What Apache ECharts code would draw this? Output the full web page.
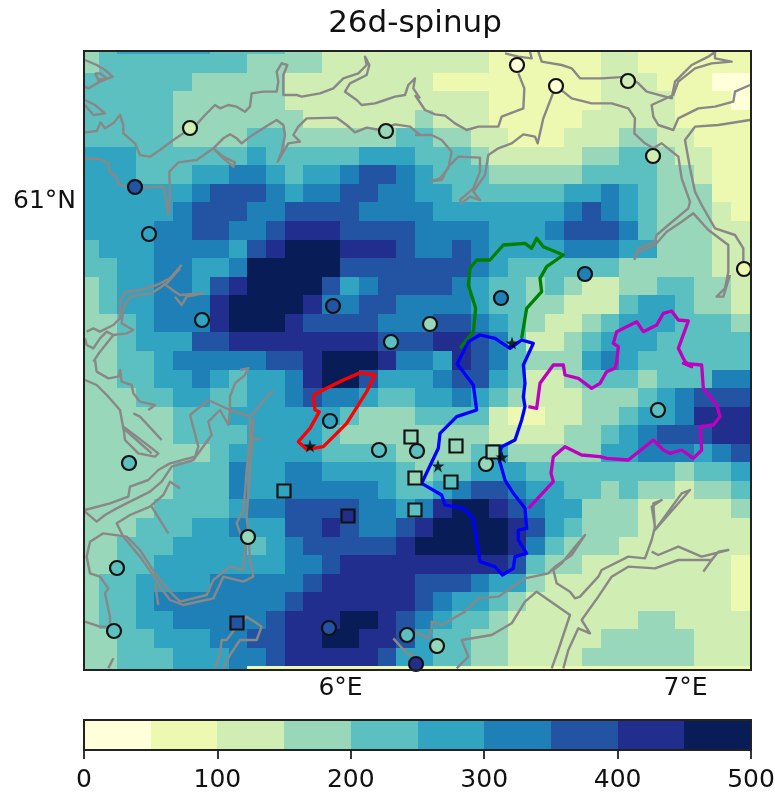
<!DOCTYPE html>
<html><head><meta charset="utf-8">
<style>html,body{margin:0;padding:0;background:#fff}#c{width:775px;height:798px;filter:blur(0.55px)}</style>
<script src="https://cdn.jsdelivr.net/npm/echarts@6/dist/echarts.min.js"></script>
</head><body><div id="c"></div>
<script>
const titleText = '26d-spinup';
const palette = ['#ffffd9','#edf8b1','#d0edb3','#98d7b9','#5cc0c0','#31a4c2','#1f80b8','#2254a3','#212e8e','#081d58'];
const barTicks = [0,100,200,300,400,500];
const binWidth = 50;
// colour class of each model cell (value = class*50+25), north to south, west to east
const cellBins = [
[3,4,5,5,5,5,5,4,4,4,4,3,3,2,2,2,2,2,2,2,2,2,1,1,1,1,1,1,2,2,1,1,1,1,1,1],
[3,4,4,4,4,4,4,4,4,3,3,3,3,2,2,2,2,2,2,2,2,2,1,1,1,1,1,1,2,2,1,1,1,1,1,1],
[4,4,4,4,4,4,3,3,3,3,3,2,2,2,2,2,2,2,2,1,1,1,1,1,1,1,1,1,2,2,2,1,1,1,0,0],
[4,4,4,4,4,3,3,3,3,3,3,2,2,2,2,2,2,2,2,2,2,2,1,1,1,1,1,1,2,2,2,2,1,1,1,0],
[4,4,4,4,4,3,3,3,3,3,3,3,2,2,2,2,2,2,3,2,2,2,1,1,1,1,1,2,2,2,2,2,1,1,1,1],
[4,4,4,4,4,3,3,3,3,4,4,3,3,3,3,3,3,4,4,3,3,2,2,1,1,1,2,2,2,3,3,2,2,1,1,1],
[5,5,5,4,4,4,4,4,4,5,4,4,4,4,4,5,5,5,4,4,4,3,2,2,2,2,2,3,3,4,4,3,2,2,1,1],
[5,5,5,4,4,4,5,5,6,6,5,4,5,5,6,7,7,6,5,4,4,4,3,3,3,3,3,4,4,4,4,3,3,2,1,1],
[5,5,5,5,5,5,6,7,7,7,6,5,6,6,7,7,6,6,5,5,4,4,4,4,4,4,5,5,6,5,4,3,3,3,1,1],
[5,5,5,5,5,6,7,7,7,6,6,7,7,7,7,6,6,6,6,5,5,5,5,5,5,5,6,7,6,5,4,3,3,3,2,1],
[5,5,5,5,6,6,7,7,6,6,7,8,8,8,7,7,7,7,6,6,6,6,5,5,5,6,7,7,7,6,4,3,3,3,2,2],
[4,5,5,5,6,6,6,6,5,7,8,9,9,9,8,8,8,7,6,6,7,6,5,5,5,5,6,6,6,5,5,3,3,3,2,2],
[4,4,5,5,6,6,5,5,6,9,9,9,9,9,7,7,7,7,7,7,7,6,5,4,4,4,4,4,4,3,3,3,3,3,2,2],
[3,4,5,5,6,6,5,7,8,9,9,9,9,7,5,6,7,7,7,7,6,5,4,4,3,4,3,2,2,3,3,4,4,3,3,2],
[3,4,5,5,6,6,6,8,9,9,9,9,8,6,6,7,7,6,6,6,6,5,4,4,3,3,2,2,2,4,5,5,4,3,3,2],
[3,3,4,5,6,6,6,8,9,9,9,8,7,7,7,7,6,6,6,7,7,6,5,4,3,2,2,3,4,5,5,5,4,4,4,3],
[3,3,4,5,5,5,7,7,8,8,8,8,8,8,8,8,7,7,7,8,8,7,6,4,2,2,3,4,5,5,5,4,4,4,4,4],
[3,3,4,4,5,6,6,6,6,6,7,7,8,9,9,9,8,6,6,5,8,7,6,4,3,3,3,5,6,5,4,4,4,4,4,4],
[3,3,4,4,5,5,6,5,4,5,5,6,8,9,9,7,5,5,5,6,7,7,5,4,2,2,3,4,4,4,3,4,4,4,6,6],
[3,3,3,4,4,5,5,4,4,5,5,6,7,6,6,5,4,4,5,5,6,5,4,3,2,2,2,3,3,3,4,5,6,7,7,7],
[3,3,3,3,3,4,4,4,5,5,5,5,5,5,4,3,3,3,4,4,4,4,2,1,1,2,2,3,3,4,5,5,6,8,8,8],
[3,3,3,3,3,4,4,4,4,5,5,5,5,4,3,3,3,3,3,3,3,3,2,2,2,2,3,3,4,5,6,7,7,7,8,8],
[3,3,3,3,3,3,3,4,5,5,5,5,5,4,4,4,4,3,3,3,3,4,5,3,3,3,3,3,5,5,6,6,6,5,6,7],
[3,3,3,3,3,4,4,4,6,5,5,6,6,5,5,5,5,4,3,4,4,5,5,5,4,4,4,4,4,4,4,4,3,4,4,5],
[3,3,3,3,3,4,4,4,6,5,5,6,6,6,6,6,5,4,4,5,6,7,7,6,5,5,4,4,3,4,3,3,2,3,3,4],
[3,3,3,3,4,4,4,4,5,6,6,7,7,7,7,6,6,5,6,8,9,9,8,7,6,5,5,3,3,3,2,2,2,2,2,3],
[3,3,3,4,4,4,5,5,6,5,5,7,7,8,7,6,6,7,8,9,9,9,9,8,7,5,4,3,3,3,2,2,2,2,2,2],
[3,3,4,4,4,5,5,5,5,4,5,6,7,7,7,7,7,8,9,9,9,9,9,8,6,4,3,3,3,2,2,2,2,2,2,2],
[3,3,4,4,5,5,5,5,5,5,5,6,6,7,8,8,8,8,8,8,8,8,8,7,4,3,3,2,2,2,2,2,2,2,2,1],
[3,4,4,5,5,5,5,6,6,6,6,6,7,8,8,8,8,8,7,7,7,6,5,5,3,2,2,2,2,2,2,2,2,2,2,1],
[3,4,4,5,6,6,6,6,6,6,6,7,8,8,8,8,8,8,7,6,5,5,4,3,2,2,2,2,2,2,2,2,2,2,2,1],
[3,4,4,5,5,6,6,6,6,6,7,8,8,8,9,9,8,7,6,5,4,4,3,2,2,2,2,2,2,2,3,3,2,2,2,2],
[3,3,4,4,5,5,5,6,6,7,7,8,8,9,9,8,8,7,5,4,4,3,3,2,2,2,2,2,3,3,3,3,3,2,2,2],
[3,3,4,4,4,5,5,5,6,6,7,8,8,8,8,8,7,5,5,4,4,3,3,2,2,2,2,3,3,3,3,3,3,2,2,2],
[3,3,4,4,4,5,5,5,6,1,1,1,1,1,1,1,1,1,1,1,1,1,1,1,1,1,1,1,1,1,1,1,1,1,1,1]
];
// stations: [map x, map y, observed value]
const circleStations = [[153,45,325],[517,65,30],[556,86,30],[628,81,120],[190,128,130],[386,131,170],[653,156,120],[135,187,380],[149,234,260],[744,269,60],[585,274,320],[333,306,370],[501,298,320],[202,320,270],[430,324,190],[391,342,220],[330,421,270],[379,450,220],[417,451,230],[658,410,210],[486,464,170],[129,463,240],[248,537,160],[117,568,210],[114,631,210],[329,628,360],[407,635,230],[437,646,180],[416,664,400],[565,673,300]];
const squareStations = [[411,437,150],[456,446,170],[493,452,170],[415,478,170],[451,482,220],[284,491,270],[348,516,420],[415,510,220],[237,623,390],[129,673,450]];
const starStations = [[310,446],[438,466],[502,457],[512,343]];
const sheetNW = [80,45], sheetNE = [415,45], sheetSW = [80,360], sheetSE = [415,360];
const coastNW = [
[[15,262],[50,258],[62,232],[75,250],[100,235],[120,210],[130,240],[130,265],[165,295],[180,330],[210,335],[240,315],[280,285],[310,265],[340,250],[375,210],[405,180],[420,190],[445,180],[470,185],[495,200],[510,185],[515,145],[550,140],[590,140],[595,110],[590,80],[605,55],[622,60],[610,90],[610,150],[650,150],[665,155],[720,145],[760,130],[790,100],[835,85],[860,60],[855,35],[868,60],[860,90],[810,115],[795,140],[830,165],[845,180],[885,175],[915,165],[945,155],[975,150],[985,120],[1005,100],[1000,130],[1020,160]],
[[15,340],[60,342],[85,355],[88,380],[110,395],[112,415],[140,425],[190,428],[250,425],[258,460],[265,510],[270,460],[268,380],[295,352],[350,345],[385,320],[400,310],[430,280],[450,268],[470,280],[485,295],[510,275],[565,240],[590,225],[610,240],[615,270],[605,320],[593,350],[625,295],[660,290],[640,270],[655,245],[680,220],[770,218],[800,240],[825,262],[860,248],[900,255],[945,238],[990,245],[1020,270]],
[[400,310],[430,340],[460,365],[465,352],[430,335],[400,310]],
[[15,45],[50,60],[75,75],[98,95],[60,110],[25,130],[15,125]],
[[45,85],[55,105],[80,100],[60,85],[45,85]],
[[15,165],[45,180],[75,205],[40,210],[15,180]],
[[305,660],[270,700],[230,720],[180,735],[135,740],[120,770],[120,820],[100,840],[60,860],[40,850],[20,860]],
[[300,670],[260,715],[215,745],[150,755],[130,790],[125,835],[160,855],[140,865],[100,870],[80,860],[60,880],[40,910],[20,900],[15,880]],
[[250,715],[285,740],[300,750],[370,745],[320,755],[305,780],[285,755]],
[[40,950],[60,920],[100,870]]
];
const coastNE = [
[[0,150],[30,195],[60,208],[90,212],[120,235],[155,255],[190,245],[250,245],[260,215],[325,190],[328,130],[310,85]],
[[270,25],[310,35],[350,40],[345,20]],
[[0,270],[50,270],[80,285],[110,320],[100,370],[75,400],[50,408],[80,405],[100,365],[130,335],[195,338],[195,380],[175,430],[135,465],[140,475],[165,455],[195,465],[175,440],[210,390],[220,330],[250,310],[290,295],[325,268],[360,275],[368,295],[385,220],[412,150],[423,125]],
[[425,125],[445,140],[470,160],[530,175],[590,175],[640,190],[660,220],[658,265],[690,295],[715,310]],
[[370,20],[380,50],[440,60],[470,70],[495,100],[560,100],[640,95],[670,115],[695,140],[770,160],[780,110],[830,60],[880,35],[900,20],[900,40],[950,50],[890,55],[840,70],[790,110],[775,150],[710,180],[715,215],[730,240],[775,255],[790,220],[850,190],[900,185],[955,170],[960,140],[1005,120]],
[[715,310],[740,295],[790,335],[800,400],[825,470],[820,490],[760,540],[725,570],[720,590],[670,610],[658,645]],
[[1005,225],[910,240],[840,245],[810,285],[825,370],[840,440],[860,480],[900,550],[960,570],[985,610],[985,660]],
[[660,625],[720,600],[755,560],[800,530],[835,505],[880,555],[940,600],[940,680],[930,730],[905,755],[925,755],[945,690]]
];
const coastSW = [
[[45,0],[50,35],[85,55],[115,50],[120,30],[125,65],[155,75],[160,100],[180,125],[225,135],[205,150]],
[[15,60],[50,75],[85,110],[120,150],[130,205],[170,240],[215,280]],
[[130,200],[135,240],[175,280],[225,290],[235,280],[170,230],[130,200]],
[[160,160],[180,170],[245,240]],
[[15,455],[50,485],[75,465],[110,445],[150,425],[210,395],[245,365],[275,320],[340,300],[395,225],[385,185],[420,150],[445,195],[450,150],[510,170],[545,130],[580,90]],
[[330,165],[355,260],[345,290],[270,310],[235,330],[205,360],[150,380],[145,410],[90,430],[15,450]],
[[480,30],[505,25],[495,45],[465,70],[450,110],[450,150],[385,120],[330,165]],
[[510,175],[510,240],[500,330],[495,400],[490,450],[470,490],[495,560],[490,630],[450,620],[400,660],[380,705],[300,725],[270,695],[225,640],[180,570],[140,530],[70,520],[30,545],[20,590],[30,640],[60,650],[85,685],[75,700],[90,770],[90,800]],
[[510,240],[545,235]],
[[520,175],[515,260],[505,400],[500,470],[505,520],[510,600],[520,650],[490,665],[430,650],[400,715],[310,735],[270,720],[240,680],[215,640],[180,590],[130,530],[110,490],[150,465],[210,440],[250,405],[270,365],[300,385]],
[[215,440],[265,520]],
[[225,670],[235,735]],
[[15,785],[60,800],[85,800]],
[[405,925],[420,880],[425,840],[440,840],[470,800],[500,770],[530,790],[545,800],[530,840],[480,840],[450,885],[430,925]],
[[100,895],[85,925]],
[[940,835],[980,880],[1020,895]]
];
const coastSE = [
[[0,815],[40,835],[50,805],[50,785],[80,795],[150,755],[190,715],[250,710],[330,655],[400,640],[420,620],[470,585],[510,525],[480,560],[440,610],[415,630],[425,670],[465,695],[480,715],[495,710],[550,650],[560,630],[640,590],[690,595],[710,540],[720,500],[710,440],[740,420],[715,430],[720,510],[825,390],[800,400],[720,510]],
[[710,575],[730,585],[790,560],[860,590],[940,570],[910,575],[890,600]],
[[865,635],[890,600],[790,600],[720,625],[640,620],[590,650],[550,710],[500,780],[525,820],[490,805],[460,870],[445,925]],
[[410,925],[430,870],[465,765],[365,695],[330,725],[290,790],[230,825],[140,840],[160,890],[125,925]]
];
const redTrace = [[700,105],[705,150],[718,155],[690,205],[655,245],[680,268],[730,260],[770,220],[800,190],[860,95],[885,45],[840,38],[790,60],[740,85],[700,105]];
const greenTrace = [[135,910],[175,860],[182,790],[160,720],[165,670],[185,645],[225,645],[265,600],[330,595],[350,610],[365,580],[385,605],[445,630],[395,665],[375,700],[380,740],[335,790],[320,880]];
const blueNorth = [[125,960],[160,890],[195,870],[240,880],[285,910],[320,885],[355,895],[325,960]];
const blueSouth = [[325,10],[330,70],[325,110],[330,140],[320,180],[300,240],[260,260],[250,290],[270,360],[295,400],[330,445],[335,505],[310,510],[310,540],[335,580],[300,590],[295,625],[262,645],[240,620],[195,605],[185,540],[175,475],[145,445],[90,435],[80,405],[20,370],[70,265],[75,220],[125,170],[185,150],[175,75],[125,10]];
const magentaA = [[340,140],[365,145],[375,70],[415,15],[445,15],[450,45],[490,55],[530,85],[555,70],[575,35],[600,25],[605,5]];
const magentaB = [[605,950],[610,905],[595,895],[605,860],[665,830],[685,860],[725,840],[745,805],[770,798],[790,825],[820,828],[790,910],[810,950],[830,965]];
const magentaC = [[805,10],[860,15],[865,85],[905,135],[915,170],[895,195],[855,200],[860,270],[835,295],[800,270],[765,280],[745,270],[715,240],[640,300],[575,295],[555,290],[500,285],[450,260],[415,290],[408,340],[415,365],[340,445]];

// map scale: digitised units to degrees
const lonOf = x => 6 + (x - 340.5) / 345;
const latOf = y => 61 - (y - 201) / 710;
const fromSheet = (s, pts) => pts.map(p => [lonOf(s[0] + p[0] / 3), latOf(s[1] + p[1] / 3)]);
const colourOf = v => palette[Math.max(0, Math.min(9, Math.floor(v / binWidth)))];

const colEdge = c => 98.5 + 18.6 * c;
const rowEdge = r => 54 + 18.56 * r;
const cells = [];
cellBins.forEach((row, r) => row.forEach((b, c) => {
  cells.push([lonOf(colEdge(c - 1)), lonOf(c === 35 ? 752 : colEdge(c)), latOf(rowEdge(r - 1)), latOf(rowEdge(r)), b * binWidth + 25]);
}));
const rectItem = (params, api) => {
  const a = api.coord([api.value(0), api.value(2)]), b = api.coord([api.value(1), api.value(3)]);
  const x0 = Math.round(a[0]), y0 = Math.round(a[1]), x1 = Math.round(b[0]), y1 = Math.round(b[1]);
  return {type: 'rect', shape: {x: x0, y: y0, width: x1 - x0, height: y1 - y0}, style: {fill: colourOf(api.value(4))}};
};
const lineOf = (data, color, width, z) => ({type: 'line', data, symbol: 'none', clip: true, silent: true, z, xAxisIndex: 0, yAxisIndex: 0, lineStyle: {color, width, join: 'round'}, animation: false});
const coastSeries = [];
[[sheetNW, coastNW], [sheetNE, coastNE], [sheetSW, coastSW], [sheetSE, coastSE]].forEach(([s, list]) => list.forEach(p => coastSeries.push(lineOf(fromSheet(s, p), '#8a8787', 2.4, 3))));
const starPath = 'path://M50 0L62 36L100 36L69 58L81 95L50 72L19 95L31 58L0 36L38 36Z';
const stationSeries = (list, symbol, size) => ({type: 'scatter', xAxisIndex: 0, yAxisIndex: 0, clip: true, z: 6, symbol, symbolSize: size,
  data: list.map(s => ({value: [lonOf(s[0]), latOf(s[1])], itemStyle: {color: colourOf(s[2]), borderColor: '#111', borderWidth: 2.2, opacity: 1}}))});
const fontF = '"DejaVu Sans"';
const chart = echarts.init(document.getElementById('c'), null, {renderer: 'canvas'});
chart.setOption({
  animation: false, backgroundColor: '#fff',
  title: {text: titleText, left: 410, top: 3, textAlign: 'center', textStyle: {fontFamily: fontF, fontWeight: 'normal', fontSize: 31, color: '#111'}},
  grid: [
    {left: 84, top: 51, width: 667, height: 619, show: true, borderColor: '#222', borderWidth: 2, backgroundColor: 'transparent', z: 8, outerBoundsMode: 'none', containLabel: false},
    {left: 84, top: 720, width: 667, height: 30, show: true, borderColor: '#222', borderWidth: 2, backgroundColor: 'transparent', z: 8, outerBoundsMode: 'none', containLabel: false}
  ],
  xAxis: [
    {type: 'value', gridIndex: 0, min: lonOf(84), max: lonOf(751), splitLine: {show: false}, axisLine: {show: false}, axisTick: {show: false},
      axisLabel: {customValues: [6, 7], formatter: v => v + '°E', margin: 6, fontFamily: fontF, fontSize: 25, color: '#111'}},
    {type: 'value', gridIndex: 1, min: 0, max: 500, interval: 100, splitLine: {show: false}, axisLine: {show: false},
      axisTick: {show: true, length: 9, lineStyle: {color: '#222', width: 1.8}},
      axisLabel: {margin: 18, fontFamily: fontF, fontSize: 25, color: '#111', hideOverlap: false, formatter: v => barTicks.includes(v) ? String(v) : ''}}
  ],
  yAxis: [
    {type: 'value', gridIndex: 0, min: latOf(670), max: latOf(51), splitLine: {show: false}, axisLine: {show: false}, axisTick: {show: false},
      axisLabel: {customValues: [61], formatter: v => v + '°N', margin: 8, fontFamily: fontF, fontSize: 25, color: '#111'}},
    {type: 'value', gridIndex: 1, min: 0, max: 1, show: false}
  ],
  series: [
    {type: 'custom', xAxisIndex: 0, yAxisIndex: 0, clip: true, z: 1, silent: true, renderItem: rectItem, encode: {x: [0, 1], y: [2, 3]}, data: cells},
    ...coastSeries,
    lineOf(fromSheet(sheetSW, redTrace), '#ff0000', 3.3, 5),
    lineOf(fromSheet(sheetNE, greenTrace), '#008000', 3.3, 5),
    lineOf([...fromSheet(sheetNE, blueNorth), ...fromSheet(sheetSE, blueSouth)], '#0000ff', 3.3, 5),
    lineOf([...fromSheet(sheetSE, magentaA), ...fromSheet(sheetNE, magentaB), ...fromSheet(sheetSE, magentaC)], '#bf00bf', 3.3, 5),
    stationSeries(circleStations, 'circle', 14),
    stationSeries(squareStations, 'rect', 13),
    {type: 'scatter', xAxisIndex: 0, yAxisIndex: 0, clip: true, z: 7, symbol: starPath, symbolSize: 13, itemStyle: {color: '#000'},
      data: starStations.map(s => [lonOf(s[0]), latOf(s[1])])},
    {type: 'custom', xAxisIndex: 1, yAxisIndex: 1, z: 1, silent: true, renderItem: rectItem, encode: {x: [0, 1], y: [2, 3]},
      data: palette.map((p, i) => [i * binWidth, (i + 1) * binWidth, 1, 0, i * binWidth + 25])}
  ]
});
</script></body></html>
